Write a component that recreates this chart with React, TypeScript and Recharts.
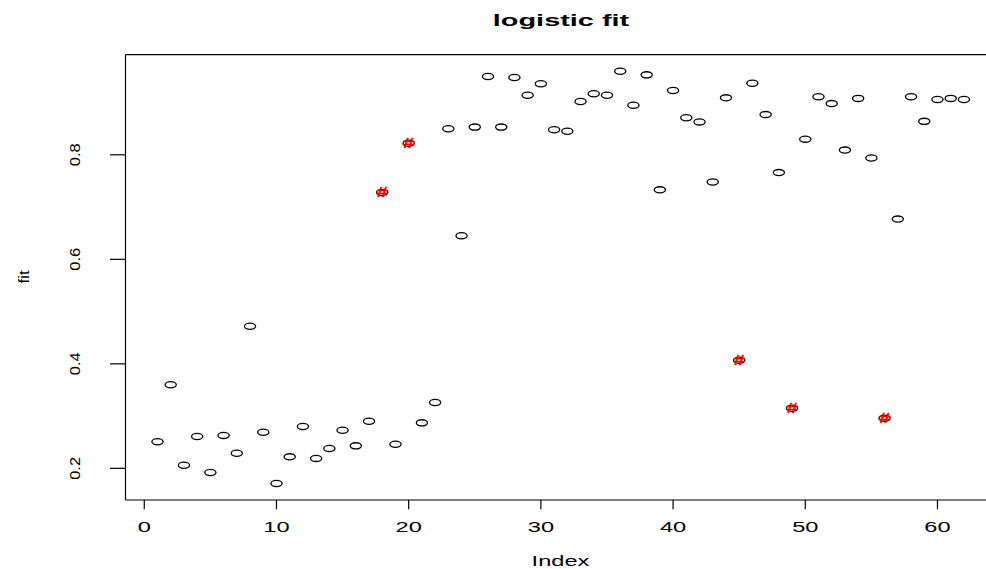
import { ScatterChart, Scatter, XAxis, YAxis, ReferenceLine } from "recharts";

// fitted probabilities (index 1..62)
const fitValues = [
  0.251, 0.36, 0.206, 0.261, 0.192, 0.263, 0.229, 0.472, 0.269, 0.171,
  0.222, 0.28, 0.219, 0.238, 0.273, 0.243, 0.29, 0.728, 0.246, 0.822,
  0.287, 0.326, 0.85, 0.645, 0.853, 0.95, 0.853, 0.948, 0.914, 0.936,
  0.848, 0.845, 0.902, 0.917, 0.914, 0.96, 0.895, 0.953, 0.733, 0.923,
  0.871, 0.863, 0.748, 0.909, 0.407, 0.937, 0.877, 0.766, 0.315, 0.83,
  0.911, 0.898, 0.809, 0.908, 0.794, 0.296, 0.677, 0.911, 0.864, 0.906,
  0.908, 0.906,
];

// points marked with a red "#"
const flaggedIndex = [18, 20, 45, 49, 56];

const xTicks = [0, 10, 20, 30, 40, 50, 60];
const yTicks = [0.2, 0.4, 0.6, 0.8];
const yTickLabels = ["0.2", "0.4", "0.6", "0.8"];

const WIDTH = 986;
const HEIGHT = 569;
const X_DOMAIN = [-1.42, 63.67];
const Y_DOMAIN = [0.1394, 0.9916];
const FONT = '"Liberation Sans", Arial, Helvetica, sans-serif';
const STRETCH = 1.63;

const points = fitValues.map((fit, i) => ({ index: i + 1, fit }));
const flaggedPoints = points.filter((p) => flaggedIndex.includes(p.index));

const OpenCircle = ({ cx, cy }: any) => {
  if (cx == null || cy == null) return null;
  return (
    <ellipse cx={cx} cy={cy} rx={5.6} ry={3.1} fill="none" stroke="#000" strokeWidth={1.3} />
  );
};

const HashMark = ({ cx, cy }: any) => {
  if (cx == null || cy == null) return null;
  return (
    <text
      transform={`translate(${cx},${cy + 4.9}) scale(1.45,1)`}
      textAnchor="middle"
      fontSize={14}
      fontFamily={FONT}
      fill="#ff0000"
      stroke="#ff0000"
      strokeWidth={0.5}
    >
      #
    </text>
  );
};

const XTick = ({ x, y, payload }: any) => (
  <g>
    <line x1={x} x2={x} y1={y} y2={y + 9.3} stroke="#000" strokeWidth={1.2} />
    <text
      transform={`translate(${x},${y + 32.3}) scale(${STRETCH},1)`}
      textAnchor="middle"
      fontSize={14.5}
      fontFamily={FONT}
      fill="#000"
    >
      {payload.value}
    </text>
  </g>
);

const YTick = ({ x, y, index }: any) => (
  <g>
    <line x1={x - 15.5} x2={x} y1={y} y2={y} stroke="#000" strokeWidth={1.2} />
    <text
      transform={`translate(${x - 45.5},${y}) rotate(-90) scale(1,0.9)`}
      textAnchor="middle"
      fontSize={16.5}
      fontFamily={FONT}
      fill="#000"
    >
      {yTickLabels[index]}
    </text>
  </g>
);

const App = () => {
  return (
    <div style={{ position: "relative", width: WIDTH, height: HEIGHT, background: "#fff", overflow: "hidden" }}>
      <style>{"body{margin:0}"}</style>
      <ScatterChart width={WIDTH} height={HEIGHT} margin={{ top: 54.7, right: 0, bottom: 0, left: 0 }}>
        <XAxis
          type="number"
          dataKey="index"
          domain={X_DOMAIN}
          allowDataOverflow
          ticks={xTicks}
          interval={0}
          tick={(props: any) => <XTick {...props} />}
          tickLine={false}
          tickSize={0}
          tickMargin={0}
          height={69}
          axisLine={{ stroke: "#000", strokeWidth: 1.2 }}
        />
        <YAxis
          type="number"
          dataKey="fit"
          domain={Y_DOMAIN}
          allowDataOverflow
          ticks={yTicks}
          interval={0}
          tick={(props: any) => <YTick {...props} />}
          tickLine={false}
          tickSize={0}
          tickMargin={0}
          width={125.5}
          axisLine={{ stroke: "#000", strokeWidth: 1.2 }}
        />
        <ReferenceLine y={Y_DOMAIN[1]} stroke="#000" strokeWidth={1.2} />
        <Scatter
          data={points}
          isAnimationActive={false}
          shape={(props: any) => <OpenCircle {...props} />}
        />
        <Scatter
          data={flaggedPoints}
          isAnimationActive={false}
          shape={(props: any) => <HashMark {...props} />}
        />
      </ScatterChart>
      <svg
        width={WIDTH}
        height={HEIGHT}
        style={{ position: "absolute", left: 0, top: 0, pointerEvents: "none" }}
      >
        <text
          transform={`translate(561,25.7) scale(1.66,1)`}
          textAnchor="middle"
          fontSize={17.4}
          fontWeight="bold"
          fontFamily={FONT}
          fill="#000"
        >
          logistic fit
        </text>
        <text
          transform={`translate(560.5,566) scale(${STRETCH},1)`}
          textAnchor="middle"
          fontSize={14.5}
          fontFamily={FONT}
          fill="#000"
        >
          Index
        </text>
        <text
          transform={`translate(29,277) rotate(-90) scale(1,0.9)`}
          textAnchor="middle"
          fontSize={17}
          fontFamily={FONT}
          fill="#000"
        >
          fit
        </text>
      </svg>
    </div>
  );
};

export default App;
